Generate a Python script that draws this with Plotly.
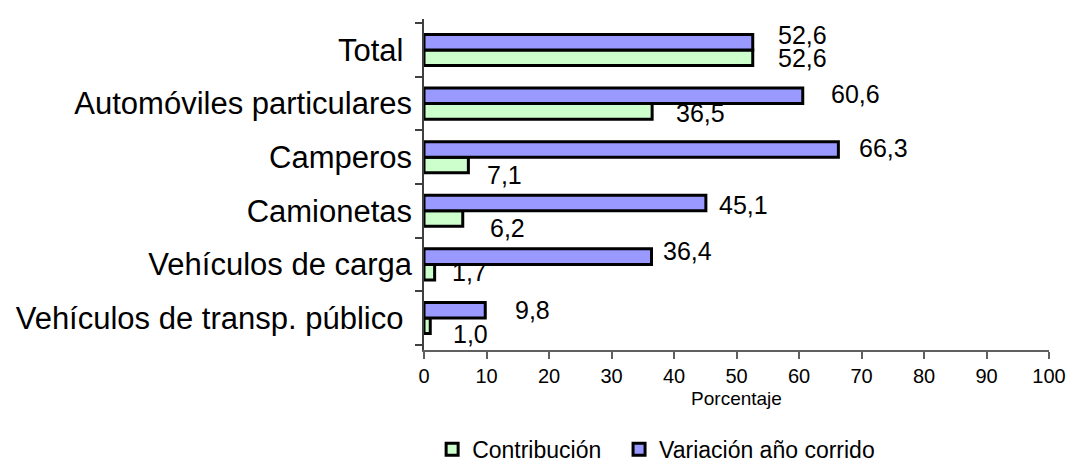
import plotly.graph_objects as go

# datos (variación año corrido y contribución, %)
categorias = ["Total\u00a0", "Automóviles particulares", "Camperos", "Camionetas",
              "Vehículos de carga", "Vehículos de transp. público\u00a0"]
contribucion = [52.6, 36.5, 7.1, 6.2, 1.7, 1.0]
variacion = [52.6, 60.6, 66.3, 45.1, 36.4, 9.8]

# desplazamiento manual de las etiquetas (px): (dx, dy) como en el original
nudge_var = [(50, 15), (53, 10), (45, 9), (38, 6), (36, 13), (47, 8)]
nudge_con = [(50, -8), (48, -9), (36, -18), (45, -17), (35, -8), (40, -16)]

fuente = "Liberation Sans, Arial, sans-serif"

fig = go.Figure()
fig.add_trace(go.Bar(
    y=categorias, x=contribucion, orientation="h", name="Contribución\u00a0\u00a0",
    marker=dict(color="#CCFFCC", line=dict(color="black", width=3)),
))
fig.add_trace(go.Bar(
    y=categorias, x=variacion, orientation="h", name="Variación año corrido",
    marker=dict(color="#9999FF", line=dict(color="black", width=3)),
))

def fmt(v):
    return f"{v:.1f}".replace(".", ",")

anots = []
for cat, v, (dx, dy) in zip(categorias, variacion, nudge_var):
    anots.append(dict(x=v, y=cat, xref="x", yref="y", text=fmt(v), showarrow=False,
                      xanchor="center", yanchor="middle", xshift=dx, yshift=dy,
                      font=dict(size=25, color="black", family=fuente)))
for cat, v, (dx, dy) in zip(categorias, contribucion, nudge_con):
    anots.append(dict(x=v, y=cat, xref="x", yref="y", text=fmt(v), showarrow=False,
                      xanchor="center", yanchor="middle", xshift=dx, yshift=dy,
                      font=dict(size=25, color="black", family=fuente)))

fig.update_layout(
    width=1072, height=464,
    margin=dict(l=424, r=23, t=19, b=114, autoexpand=False),
    paper_bgcolor="white", plot_bgcolor="white",
    barmode="group", bargap=0.42, bargroupgap=0,
    font=dict(family=fuente, color="black"),
    annotations=anots,
    showlegend=True,
    legend=dict(orientation="h", x=0.013, xanchor="left", y=-0.30, yanchor="middle",
                font=dict(size=23, color="black"), traceorder="normal"),
)
fig.update_xaxes(
    range=[0, 100], dtick=10, tick0=0, showgrid=False, zeroline=False, automargin=False,
    showline=True, linecolor="#606060", linewidth=1.5,
    ticks="outside", ticklen=7, tickcolor="#606060", tickwidth=1.5,
    tickfont=dict(size=20), title=dict(text="Porcentaje", font=dict(size=19), standoff=6),
)
fig.update_yaxes(
    categoryorder="array", categoryarray=categorias[::-1], automargin=False,
    showgrid=False, zeroline=False, showline=True, linecolor="#404040", linewidth=1.5,
    ticks="outside", ticklen=7, tickcolor="#404040", tickwidth=1.5, tickson="boundaries",
    tickfont=dict(size=31), ticklabelstandoff=4,
)

# la página trae margen de 8px en el body; se quita para que cuadre con 1072x464
fig.write_html("out.html", config={"displayModeBar": False},
               post_script="document.body.style.margin='0';")
